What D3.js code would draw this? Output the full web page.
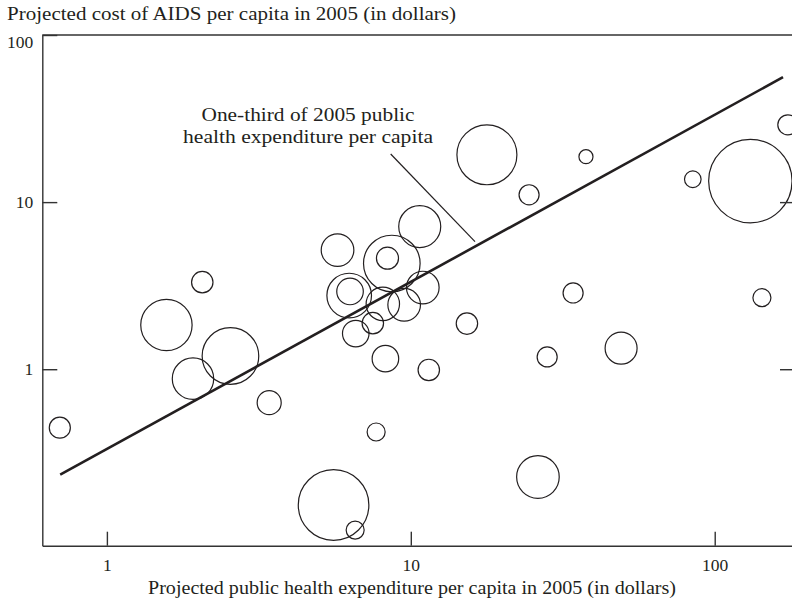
<!DOCTYPE html>
<html>
<head>
<meta charset="utf-8">
<script src="https://cdn.jsdelivr.net/npm/d3@7"></script>
<style>
  body { margin: 0; background: #fff; }
  svg text { font-family: "Liberation Serif", "DejaVu Serif", serif; fill: #231f20; }
</style>
</head>
<body>
<div id="vis"></div>
<script>
// public health expenditure per capita in 2005 (dollars)
var spending = [0.70, 1.57, 2.06, 1.92, 2.55, 3.42, 5.74, 6.27, 6.31, 8.66, 8.38, 10.7, 10.95,
  8.09, 9.51, 7.50, 6.59, 8.25, 11.46, 15.3, 17.8, 24.5, 37.7, 34.2, 28.1, 49.2, 84.7,
  131, 143, 174, 26.2, 7.69, 5.57, 6.56];
// projected cost of AIDS per capita in 2005 (dollars)
var aidsCost = [0.447, 1.84, 3.32, 0.878, 1.20, 0.631, 5.16, 2.76, 2.92, 4.29, 4.62, 7.14, 3.08,
  2.46, 2.43, 1.886, 1.634, 1.157, 0.99, 1.875, 19.2, 11.06, 18.7, 2.86, 1.185, 1.336, 13.7,
  13.36, 2.68, 29.0, 0.2265, 0.421, 0.154, 0.109];
// bubble size (population, millions)
var population = [6.3, 37.4, 6.5, 24.3, 45.4, 8.2, 15.1, 28.2, 10.0, 45.4, 6.9, 25.0, 15.1,
  15.8, 15.1, 6.5, 10.0, 10.0, 6.5, 6.5, 51.0, 5.7, 2.8, 5.7, 5.7, 14.5, 3.9,
  98.6, 4.6, 5.7, 25.7, 4.6, 70.6, 4.6];

var xTicks = [1, 10, 100];
var yTicks = [1, 10, 100];
var refShare = 1 / 3;            // one-third of public health expenditure
var refRange = [0.702, 167.8];   // extent of the reference line

var width = 792;
var height = 604;
var margin = { top: 35, left: 42.3, bottom: 58.3, right: 0 };

var svg = d3.select('#vis').append('svg')
  .attr('width', width)
  .attr('height', height);

var x = d3.scaleLog()
  .domain([0.613, 179.6])
  .range([margin.left, width - margin.right]);

var y = d3.scaleLog()
  .domain([0.0879, 100])
  .range([height - margin.bottom, margin.top]);

var r = d3.scaleSqrt()
  .domain([0, 100])
  .range([0, 42]);

var ink = '#231f20';

// bubbles
var data = spending.map(function (d, i) {
  return { x: d, y: aidsCost[i], size: population[i] };
});

svg.append('g')
  .selectAll('circle')
  .data(data)
  .join('circle')
  .attr('cx', function (d) { return x(d.x); })
  .attr('cy', function (d) { return y(d.y); })
  .attr('r', function (d) { return r(d.size); })
  .attr('fill', 'none')
  .attr('stroke', ink)
  .attr('stroke-width', 1.2);

// reference line y = x / 3
var line = d3.line()
  .x(function (d) { return x(d); })
  .y(function (d) { return y(d * refShare); });

svg.append('path')
  .attr('d', line(refRange))
  .attr('fill', 'none')
  .attr('stroke', ink)
  .attr('stroke-width', 2.6);

// axes
var xAxis = svg.append('g')
  .attr('transform', 'translate(0,' + (height - margin.bottom) + ')')
  .call(d3.axisBottom(x).tickValues(xTicks).tickFormat(d3.format('d'))
    .tickSizeInner(-14).tickSizeOuter(0).tickPadding(12.5));

var yAxis = svg.append('g')
  .attr('transform', 'translate(' + margin.left + ',0)')
  .call(d3.axisLeft(y).tickValues(yTicks).tickFormat(d3.format('d'))
    .tickSizeInner(-15).tickSizeOuter(0).tickPadding(9));

var yAxisRight = svg.append('g')
  .attr('transform', 'translate(' + (width - margin.right) + ',0)')
  .call(d3.axisRight(y).tickValues(yTicks.slice(0, 2)).tickFormat('')
    .tickSizeInner(-12).tickSizeOuter(0));
yAxisRight.select('.domain').remove();

[xAxis, yAxis, yAxisRight].forEach(function (a) {
  a.selectAll('.domain, line').attr('stroke', '#333').attr('stroke-width', 1.4);
  a.selectAll('text').attr('font-size', 17.5).attr('fill', ink)
    .attr('font-family', '"Liberation Serif", "DejaVu Serif", serif');
});
// top label sits just under the frame line
yAxis.selectAll('.tick').filter(function (d) { return d === 100; })
  .select('text').attr('dy', '0.7em');

// top frame line
svg.append('line')
  .attr('x1', margin.left).attr('x2', width)
  .attr('y1', margin.top).attr('y2', margin.top)
  .attr('stroke', '#333').attr('stroke-width', 1.4);

// titles
svg.append('text')
  .attr('x', 7).attr('y', 20)
  .attr('font-size', 18)
  .attr('textLength', 449)
  .attr('lengthAdjust', 'spacingAndGlyphs')
  .text('Projected cost of AIDS per capita in 2005 (in dollars)');

svg.append('text')
  .attr('x', 412).attr('y', 594)
  .attr('text-anchor', 'middle')
  .attr('font-size', 18)
  .attr('textLength', 528)
  .attr('lengthAdjust', 'spacingAndGlyphs')
  .text('Projected public health expenditure per capita in 2005 (in dollars)');

// annotation
var note = svg.append('text')
  .attr('text-anchor', 'middle')
  .attr('font-size', 19);
note.append('tspan').attr('x', 308).attr('y', 121)
  .attr('textLength', 213).attr('lengthAdjust', 'spacingAndGlyphs')
  .text('One-third of 2005 public');
note.append('tspan').attr('x', 308).attr('y', 143)
  .attr('textLength', 250).attr('lengthAdjust', 'spacingAndGlyphs')
  .text('health expenditure per capita');

svg.append('line')
  .attr('x1', 390.7).attr('y1', 154)
  .attr('x2', 475).attr('y2', 241.7)
  .attr('stroke', ink)
  .attr('stroke-width', 1.2);
</script>
</body>
</html>
